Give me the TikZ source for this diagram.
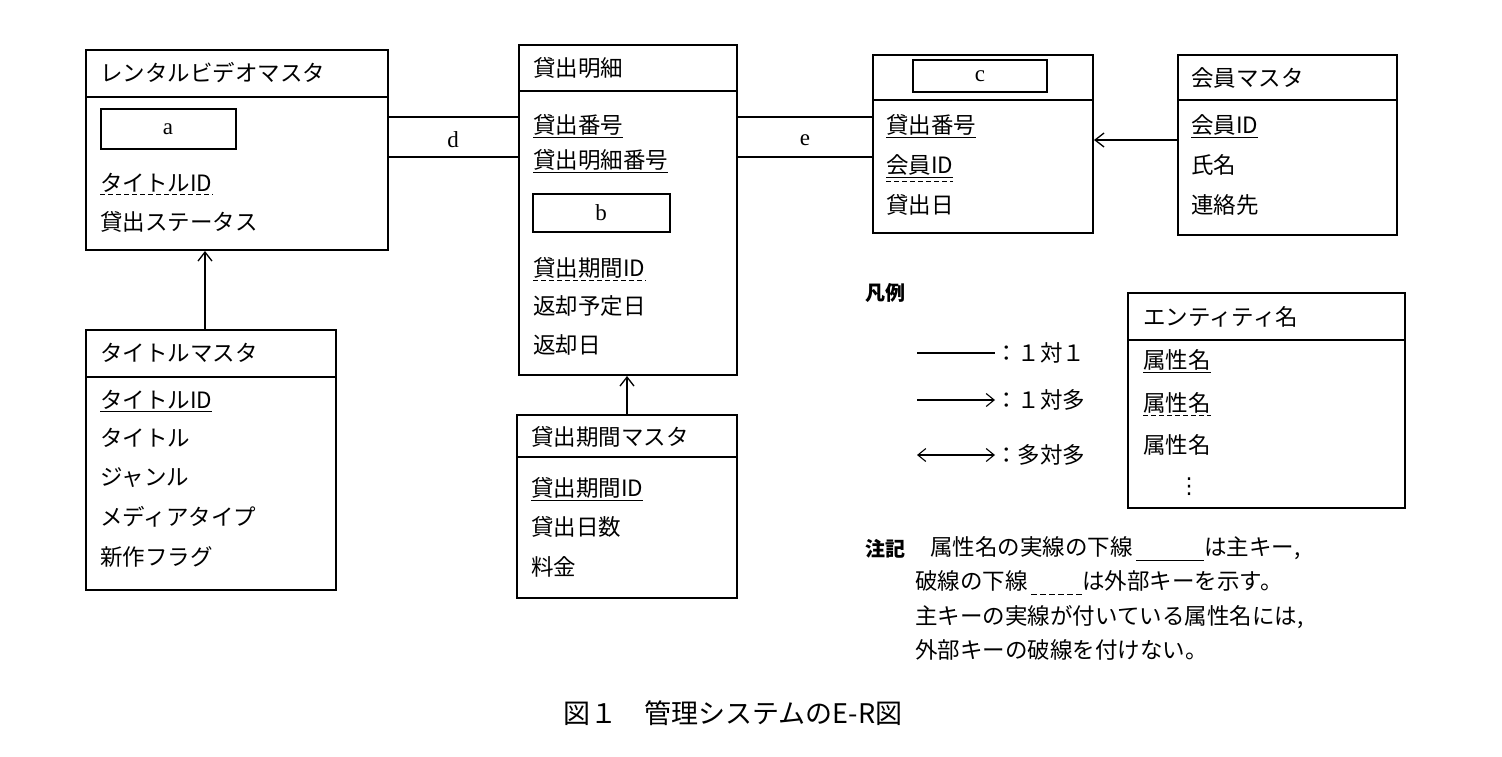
\documentclass[tikz,border=0pt]{standalone}
\usepackage{fontspec}
\setmainfont{Noto Sans CJK JP}
\newfontfamily\latn{Liberation Serif}
\newfontfamily\djv{DejaVu Sans}
\usetikzlibrary{arrows.meta}
\newcommand\solidgap{\rule[-5pt]{68pt}{1pt}}
\newcommand\dashgap{\rule[-5pt]{6pt}{1pt}\hspace{3pt}\rule[-5pt]{6pt}{1pt}\hspace{3pt}\rule[-5pt]{6pt}{1pt}\hspace{3pt}\rule[-5pt]{6pt}{1pt}\hspace{3pt}\rule[-5pt]{6pt}{1pt}\hspace{3pt}\rule[-5pt]{6pt}{1pt}}
\begin{document}
\begin{tikzpicture}[x=1pt,y=-1pt,
  box/.style={draw,line width=1.3pt},
  att/.style={anchor=west,inner sep=0pt,font=\fontsize{22.5}{26}\selectfont},
  lt/.style={anchor=center,inner sep=0pt,font=\latn\fontsize{23}{26}\selectfont},
  ln/.style={line width=1.3pt},
  arr/.style={line width=1.3pt,-{Straight Barb[length=9pt,width=14pt]}},
  pk/.style={line width=1pt},
  fk/.style={line width=1pt,dash pattern=on 5pt off 3pt}]
\useasboundingbox (0,0) rectangle (1502,756);
% Rental video master
\draw[box] (86,50) rectangle (388,250); \draw[ln] (86,97) -- (388,97);
\node[att] (r0) at (100,73) {レンタルビデオマスタ};
\draw[box] (101,109) rectangle (236,149); \node[lt] (ra) at (168,129) {a};
\node[att] (r1) at (100,183) {タイトルID};
\draw[fk] ([yshift=-2pt]r1.south west) -- ([yshift=-2pt]r1.south east);
\node[att] (r2) at (100,222) {貸出ステータス};
% Title master
\draw[box] (86,330) rectangle (336,590); \draw[ln] (86,377) -- (336,377);
\node[att] (t0) at (100,353) {タイトルマスタ};
\node[att] (t1) at (100,400) {タイトルID};
\draw[pk] ([yshift=-2pt]t1.south west) -- ([yshift=-2pt]t1.south east);
\node[att] (t2) at (100,438) {タイトル};
\node[att] (t3) at (100,478) {ジャンル};
\node[att] (t4) at (100,517) {メディアタイプ};
\node[att] (t5) at (100,557) {新作フラグ};
\coordinate (tA) at (205,330); \coordinate (rA) at (205,251);
\draw[arr] (tA) -- (rA);
% Kashidashi meisai
\draw[box] (519,45) rectangle (737,375); \draw[ln] (519,91) -- (737,91);
\node[att] (m0) at (533,68) {貸出明細};
\node[att] (m1) at (533,125) {貸出番号};
\draw[pk] ([yshift=-2pt]m1.south west) -- ([yshift=-2pt]m1.south east);
\node[att] (m2) at (533,160) {貸出明細番号};
\draw[pk] ([yshift=-2pt]m2.south west) -- ([yshift=-2pt]m2.south east);
\draw[box] (533,194) rectangle (670,232); \node[lt] (mb) at (601,213) {b};
\node[att] (m3) at (533,268) {貸出期間ID};
\draw[fk] ([yshift=-2pt]m3.south west) -- ([yshift=-2pt]m3.south east);
\node[att] (m4) at (533,306) {返却予定日};
\node[att] (m5) at (533,345) {返却日};
% d
\draw[ln] (388,117) -- (519,117); \draw[ln] (388,157) -- (519,157);
\node[lt] (d) at (453,140) {d};
% period master
\draw[box] (517,415) rectangle (737,598); \draw[ln] (517,457) -- (737,457);
\node[att] (p0) at (531,437) {貸出期間マスタ};
\node[att] (p1) at (531,488) {貸出期間ID};
\draw[pk] ([yshift=-2pt]p1.south west) -- ([yshift=-2pt]p1.south east);
\node[att] (p2) at (531,527) {貸出日数};
\node[att] (p3) at (531,567) {料金};
\coordinate (pA) at (627,415); \coordinate (mA) at (627,376);
\draw[arr] (pA) -- (mA);
% c entity
\draw[box] (873,55) rectangle (1093,233); \draw[ln] (873,100) -- (1093,100);
\draw[box] (913,60) rectangle (1047,92); \node[lt] (cc) at (980,76) {c};
\node[att] (c1) at (886,125) {貸出番号};
\draw[pk] ([yshift=-2pt]c1.south west) -- ([yshift=-2pt]c1.south east);
\node[att] (c2) at (886,165) {会員ID};
\draw[pk] ([yshift=-2pt]c2.south west) -- ([yshift=-2pt]c2.south east);
\draw[fk] ([yshift=-6pt]c2.south west) -- ([yshift=-6pt]c2.south east);
\node[att] (c3) at (886,205) {貸出日};
% e
\draw[ln] (737,117) -- (873,117); \draw[ln] (737,157) -- (873,157);
\node[lt] (e) at (805,140) {e};
% member master
\draw[box] (1178,55) rectangle (1397,235); \draw[ln] (1178,100) -- (1397,100);
\node[att] (k0) at (1191,78) {会員マスタ};
\node[att] (k1) at (1191,125) {会員ID};
\draw[pk] ([yshift=-2pt]k1.south west) -- ([yshift=-2pt]k1.south east);
\node[att] (k2) at (1191,165) {氏名};
\node[att] (k3) at (1191,205) {連絡先};
\coordinate (kA) at (1178,140); \coordinate (cA) at (1094,140);
\draw[arr] (kA) -- (cA);
% legend
\node[att,font=\bfseries\fontsize{20}{22}\selectfont] (hanrei) at (865,293) {凡例};
\coordinate (l1a) at (917,353); \coordinate (l1b) at (995,353);
\draw[line width=1.1pt] (l1a) -- (l1b);
\node[att] (l1) at (995,353) {：１対１};
\coordinate (l2a) at (917,400); \coordinate (l2b) at (995,400);
\draw[line width=1.1pt,-{Straight Barb[length=8pt,width=13pt]}] (l2a) -- (l2b);
\node[att] (l2) at (995,400) {：１対多};
\coordinate (l3a) at (917,455); \coordinate (l3b) at (995,455);
\draw[line width=1.1pt,{Straight Barb[length=8pt,width=13pt]}-{Straight Barb[length=8pt,width=13pt]}] (l3a) -- (l3b);
\node[att] (l3) at (995,455) {：多対多};
\draw[box,line width=1.1pt] (1128,293) rectangle (1405,508); \draw[line width=1.1pt] (1128,340) -- (1405,340);
\node[att] (g0) at (1143,317) {エンティティ名};
\node[att] (g1) at (1143,360) {属性名};
\draw[pk] ([yshift=-2pt]g1.south west) -- ([yshift=-2pt]g1.south east);
\node[att] (g2) at (1143,403) {属性名};
\draw[fk] ([yshift=-2pt]g2.south west) -- ([yshift=-2pt]g2.south east);
\node[att] (g3) at (1143,445) {属性名};
\node[att,font=\djv\fontsize{22}{26}\selectfont] (g4) at (1178,487) {⋮};
% note
\node[att,font=\bfseries\fontsize{20}{22}\selectfont] (chuki) at (865,549) {注記};
\node[att] (n1) at (930,549) {属性名の実線の下線\,\solidgap は主キー,};
\node[att] (n2) at (915,583) {破線の下線\,\dashgap は外部キーを示す。};
\node[att] (n3) at (915,617) {主キーの実線が付いている属性名には,};
\node[att] (n4) at (915,650) {外部キーの破線を付けない。};
% caption
\node[anchor=center,inner sep=0pt,font=\fontsize{27}{30}\selectfont] (cap) at (733,713) {図１　管理システムのE-R図};
\end{tikzpicture}
\end{document}
